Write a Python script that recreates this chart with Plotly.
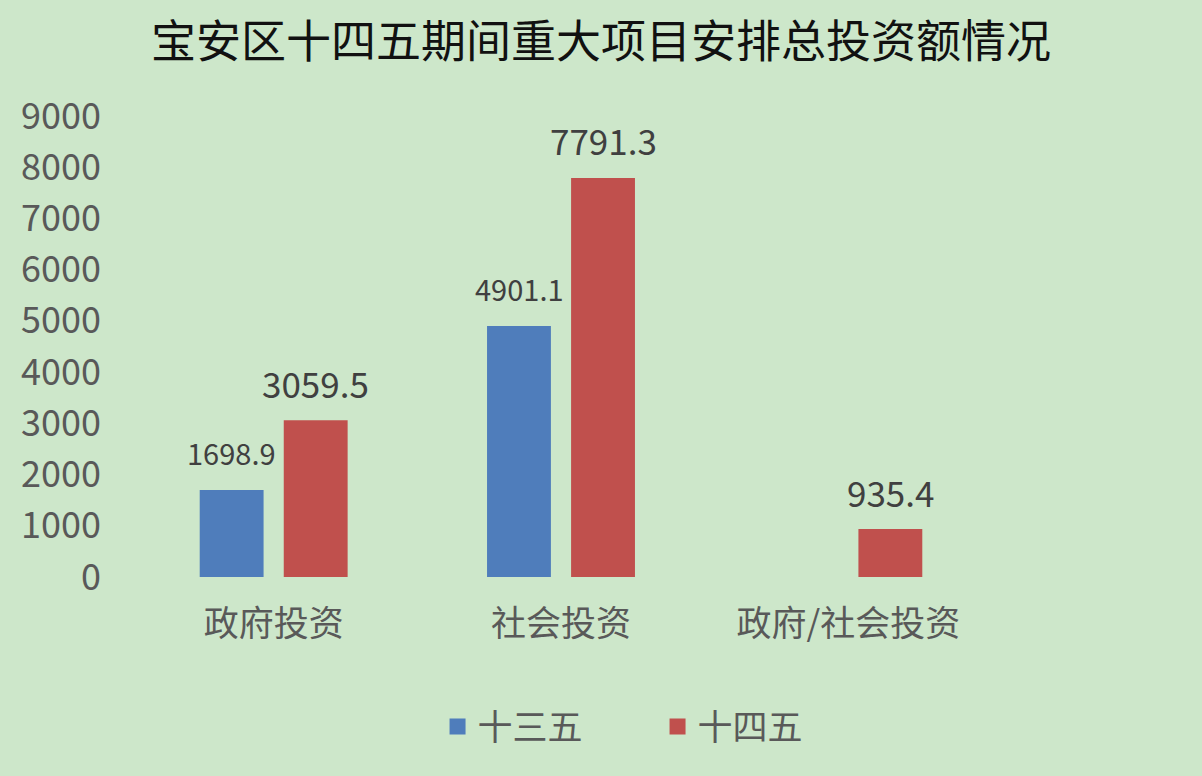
import plotly.graph_objects as go

categories = ["政府投资", "社会投资", "政府/社会投资"]
series_names = ["十三五", "十四五"]
values_13 = [1698.9, 4901.1, None]
values_14 = [3059.5, 7791.3, 935.4]
y_ticks = [0, 1000, 2000, 3000, 4000, 5000, 6000, 7000, 8000, 9000]

BLUE = "#4f7dbb"
RED = "#c0504d"
BG = "#cde7ca"
FONT = "Noto Sans CJK SC"
GRAY = "#595959"

fig = go.Figure()
fig.add_trace(go.Bar(x=categories, y=values_13, name=series_names[0],
                     marker=dict(color=BLUE, line=dict(width=0)), showlegend=False))
fig.add_trace(go.Bar(x=categories, y=values_14, name=series_names[1],
                     marker=dict(color=RED, line=dict(width=0)), showlegend=False))
# legend-only entries (larger square swatches)
for nm, col in zip(series_names, [BLUE, RED]):
    fig.add_trace(go.Scatter(x=[None], y=[None], mode="markers", name=nm,
                             marker=dict(symbol="square", size=22, color=col)))

annotations = []
for vals, shift, size in [(values_13, -42, 29), (values_14, 42, 35)]:
    for c, v in zip(categories, vals):
        if v is None:
            continue
        annotations.append(dict(x=c, y=v, xref="x", yref="y", text=f"{v:.1f}",
                                showarrow=False, xshift=shift, yshift=38,
                                yanchor="middle",
                                font=dict(family=FONT, size=size, color="#404040")))

fig.update_layout(
    width=1202, height=776,
    paper_bgcolor=BG, plot_bgcolor=BG,
    margin=dict(l=130, r=210, t=116, b=199),
    title=dict(text="宝安区十四五期间重大项目安排总投资额情况", x=0.5, xanchor="center",
               y=0.945, yanchor="middle",
               font=dict(family=FONT, size=45, color="#111111")),
    barmode="group", bargap=0.415, bargroupgap=0.24,
    font=dict(family=FONT, color=GRAY),
    showlegend=True,
    legend=dict(orientation="h", x=0.612, xanchor="center", y=-0.325, yanchor="middle",
                font=dict(family=FONT, size=35, color=GRAY), itemsizing="trace",
                entrywidth=175, bgcolor="rgba(0,0,0,0)"),
    annotations=annotations,
)
fig.update_xaxes(showgrid=False, showline=False, zeroline=False, ticks="",
                 tickfont=dict(family=FONT, size=35, color=GRAY), ticklabelstandoff=23)
fig.update_yaxes(range=[0, 9000], tickvals=y_ticks, showgrid=False, showline=False,
                 zeroline=False, ticks="", tickfont=dict(family=FONT, size=36, color=GRAY),
                 ticklabelstandoff=28)

fig.write_html("out.html", config={"displayModeBar": False},
               post_script="document.body.style.margin='0';")
